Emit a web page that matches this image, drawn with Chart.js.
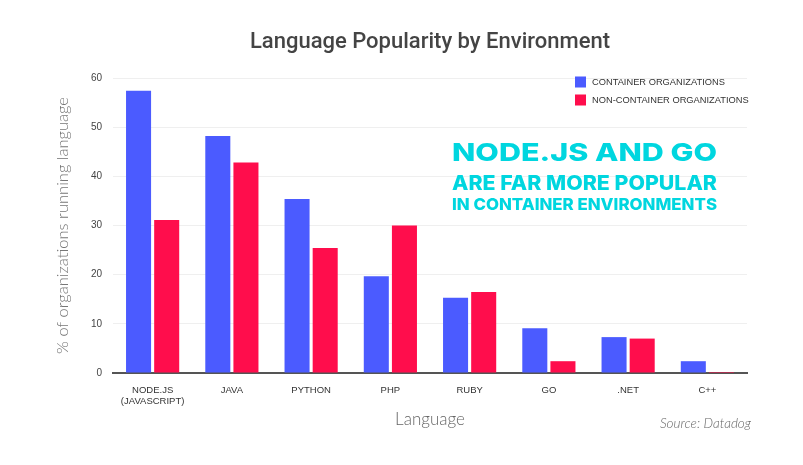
<!DOCTYPE html>
<html>
<head>
<meta charset="utf-8">
<title>Language Popularity by Environment</title>
<script src="https://cdn.jsdelivr.net/npm/chart.js@4/dist/chart.umd.min.js"></script>
<style>
    html, body { margin: 0; padding: 0; background: #ffffff; }
    #wrap { width: 803px; height: 465px; position: relative; }
</style>
</head>
<body>
<div id="wrap"><canvas id="langChart" width="803" height="465"></canvas></div>
<script>
// Data
const languages = [["NODE.JS", "(JAVASCRIPT)"], "JAVA", "PYTHON", "PHP", "RUBY", "GO", ".NET", "C++"];
const containerOrgs = [57.4, 48.2, 35.4, 19.7, 15.3, 9.1, 7.3, 2.4];
const nonContainerOrgs = [31.1, 42.8, 25.4, 30.0, 16.5, 2.4, 7.0, 0.2];
const yTicks = [0, 10, 20, 30, 40, 50, 60];
const chartTitle = "Language Popularity by Environment";
const calloutLines = ["NODE.JS AND GO", "ARE FAR MORE POPULAR", "IN CONTAINER ENVIRONMENTS"];

const BLUE = "#4b5bff";
const RED = "#ff0d4c";
const CYAN = "#00d6df";
const SMALL_FONT = "'Liberation Sans', Arial, sans-serif";

// Title centred over the plot, legend in the top right corner
const header = {
    id: "header",
    afterDraw(chart) {
        const ctx = chart.ctx;
        const area = chart.chartArea;
        ctx.save();
        ctx.fillStyle = "#444";
        ctx.font = "500 22px Roboto, sans-serif";
        ctx.textAlign = "center";
        ctx.textBaseline = "alphabetic";
        ctx.fillText(chartTitle, (area.left + area.right) / 2, 48);

        ctx.textAlign = "left";
        ctx.font = "9.3px " + SMALL_FONT;
        ctx.textBaseline = "middle";
        chart.data.datasets.forEach((ds, i) => {
            const y = 82 + i * 18;
            ctx.fillStyle = ds.backgroundColor;
            ctx.fillRect(575, y - 5.5, 11, 11);
            ctx.fillStyle = "#333";
            ctx.fillText(ds.label, 592, y);
        });
        ctx.restore();
    }
};

// Cyan callout, each line stretched to the same width, and source note
const notes = {
    id: "notes",
    afterDraw(chart) {
        const ctx = chart.ctx;
        ctx.save();
        ctx.fillStyle = CYAN;
        ctx.textBaseline = "alphabetic";
        const sizes = [25, 20.5, 16.5];
        const baselines = [161, 190, 210];
        const boxWidth = 265;
        calloutLines.forEach((line, i) => {
            ctx.font = "800 " + sizes[i] + "px Inter, sans-serif";
            const w = ctx.measureText(line).width;
            ctx.save();
            ctx.translate(452, baselines[i]);
            ctx.scale(boxWidth / w, 1);
            ctx.fillText(line, 0, 0);
            ctx.restore();
        });
        ctx.fillStyle = "#666";
        ctx.font = "italic 300 13.5px Lato, sans-serif";
        ctx.textAlign = "right";
        ctx.textBaseline = "middle";
        ctx.fillText("Source: Datadog", 751, 424);
        ctx.restore();
    }
};

const ctx = document.getElementById("langChart").getContext("2d");

new Chart(ctx, {
    type: "bar",
    data: {
        labels: languages,
        datasets: [
            {
                label: "CONTAINER ORGANIZATIONS",
                data: containerOrgs,
                backgroundColor: BLUE,
                categoryPercentage: 0.71,
                barPercentage: 0.89
            },
            {
                label: "NON-CONTAINER ORGANIZATIONS",
                data: nonContainerOrgs,
                backgroundColor: RED,
                categoryPercentage: 0.71,
                barPercentage: 0.89
            }
        ]
    },
    options: {
        responsive: false,
        animation: false,
        layout: { padding: { left: 48, right: 56, top: 78, bottom: 0 } },
        plugins: {
            legend: { display: false },
            tooltip: { enabled: false },
            title: { display: false }
        },
        scales: {
            x: {
                afterFit(scale) {
                    scale.height = 92;
                },
                grid: { display: false, drawTicks: false },
                border: { color: "#555", width: 2 },
                ticks: {
                    color: "#333",
                    font: { family: SMALL_FONT, size: 9.5, lineHeight: 1.25 },
                    padding: 11,
                    maxRotation: 0,
                    autoSkip: false
                },
                title: {
                    display: true,
                    text: "Language",
                    color: "#666",
                    font: { family: "Lato, sans-serif", size: 17, weight: "300" },
                    padding: { top: 0, bottom: 35 }
                }
            },
            y: {
                min: yTicks[0],
                max: yTicks[yTicks.length - 1],
                afterBuildTicks(scale) {
                    scale.ticks = yTicks.map(v => ({ value: v }));
                },
                afterFit(scale) {
                    scale.width = 65;
                },
                grid: { color: "#efefef", drawTicks: false },
                border: { display: false },
                ticks: {
                    color: "#444",
                    font: { family: SMALL_FONT, size: 10 },
                    padding: 11
                },
                title: {
                    display: true,
                    text: "% of organizations running language",
                    color: "#777",
                    font: { family: "Lato, sans-serif", size: 16.5, weight: "300" },
                    padding: { top: 5, bottom: 0 }
                }
            }
        }
    },
    plugins: [header, notes]
});
</script>
</body>
</html>
